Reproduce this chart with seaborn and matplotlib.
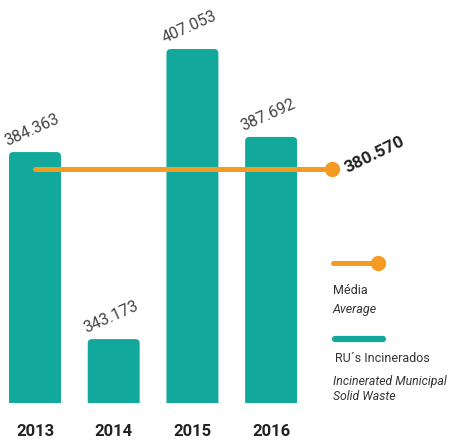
import matplotlib
matplotlib.use('Agg')
import matplotlib.pyplot as plt
import seaborn as sns
import pandas as pd
from matplotlib.lines import Line2D
from matplotlib.patches import FancyBboxPatch

# dados
anos = ['2013', '2014', '2015', '2016']
incinerados = [384.363, 343.173, 407.053, 387.692]
media = 380.570
rotulos = ['384.363', '343.173', '407.053', '387.692']

teal = '#12a89b'
laranja = '#f59b22'
cinza = '#333333'

sns.set_style('white')
plt.rcParams['font.family'] = ['Roboto', 'DejaVu Sans']

df = pd.DataFrame({'ano': anos, 'valor': incinerados})

fig = plt.figure(figsize=(4.51, 4.42), dpi=100)
ax = fig.add_axes([0, 1 - 403 / 442, 1, 403 / 442])

sns.barplot(data=df, x='ano', y='valor', color=teal, width=0.66,
            saturation=1, ax=ax)

ax.set_xlim(-0.445, 5.286)
ax.set_ylim(329.1, 417.85)

# cantos arredondados nas barras
for p in list(ax.patches):
    x, y, w, h = p.get_x(), p.get_y(), p.get_width(), p.get_height()
    p.remove()
    ax.add_patch(FancyBboxPatch((x, y), w, h,
                                boxstyle='round,pad=0,rounding_size=0.055',
                                mutation_aspect=17, color=teal, lw=0))

# rótulos dos valores
for i, (v, t) in enumerate(zip(incinerados, rotulos)):
    ax.annotate(t, (i, v), xytext=(0, 11), textcoords='offset points',
                ha='center', va='bottom', rotation=24, rotation_mode='anchor',
                fontsize=11.5, color='#444444', fontweight='normal')

# linha da média
ax.plot([0, 3.77], [media, media], color=laranja, lw=3.6,
        solid_capstyle='round', zorder=3)
ax.plot([3.77], [media], 'o', color=laranja, ms=10, zorder=4)
ax.annotate('380.570', (3.77, media), xytext=(10, 0), textcoords='offset points',
            ha='left', va='center', rotation=26, rotation_mode='anchor',
            fontsize=12.5, fontweight='bold', color='#222222')

# eixos
for s in ax.spines.values():
    s.set_visible(False)
ax.set_yticks([])
ax.set_xlabel('')
ax.set_ylabel('')
ax.set_xticks(range(4))
ax.set_xticklabels(anos, fontsize=12, fontweight='bold', color='#222222')
ax.tick_params(axis='x', which='major', length=0, pad=15)
ax.set_xticks([0.5, 1.5, 2.5], minor=True)
ax.tick_params(axis='x', which='minor', direction='inout', length=10,
               width=1, color=cinza)

# legenda
fig.add_artist(Line2D([333 / 451, 378 / 451], [1 - 263 / 442, 1 - 263 / 442],
                      transform=fig.transFigure, color=laranja, lw=3.6,
                      solid_capstyle='round'))
fig.add_artist(Line2D([378 / 451], [1 - 263 / 442], transform=fig.transFigure,
                      marker='o', color=laranja, ms=10))
fig.text(333 / 451, 1 - 290 / 442, 'Média', fontsize=9, color=cinza, va='center')
fig.text(333 / 451, 1 - 310 / 442, 'Average', fontsize=9, color=cinza,
         style='italic', va='center')
fig.add_artist(Line2D([335 / 451, 383 / 451], [1 - 339 / 442, 1 - 339 / 442],
                      transform=fig.transFigure, color=teal, lw=4.5,
                      solid_capstyle='round'))
fig.text(335 / 451, 1 - 358 / 442, 'RU´s Incinerados', fontsize=9, color=cinza,
         va='center')
fig.text(333 / 451, 1 - 381 / 442, 'Incinerated Municipal', fontsize=8.8,
         color=cinza, style='italic', va='center')
fig.text(333 / 451, 1 - 396 / 442, 'Solid Waste', fontsize=8.8, color=cinza,
         style='italic', va='center')

fig.savefig('out.png', dpi=100)
